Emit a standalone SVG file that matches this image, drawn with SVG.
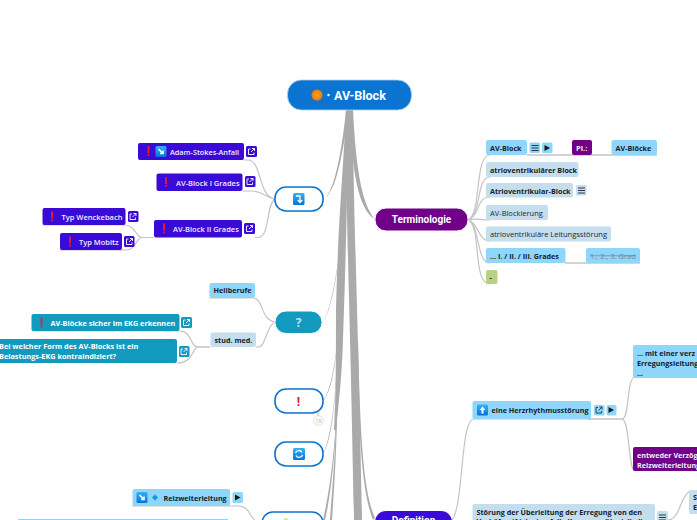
<svg xmlns="http://www.w3.org/2000/svg" width="697" height="520" viewBox="0 0 697 520">
<style>
text{font-family:"Open Sans","Liberation Sans",sans-serif;font-size:7.5px;font-weight:600}
.d{fill:#1b2733}.w{fill:#f0eefc}.t{fill:#fff}
.dk{fill:#16202b;font-weight:700;font-size:7.2px}
.c{fill:none;stroke:#c4c4c4;stroke-width:1.2}
.tr{fill:#aaa}
.lb{fill:#8fd6fb}.pb{fill:#c4deee}.ind{fill:#3a0bd8}.tl{fill:#129bbf}.pu{fill:#6f0087}
.top{fill:#fff;stroke:#0a74d0;stroke-width:1.6}
.ic{fill:none;stroke:#fff;stroke-width:.9}
.ick{fill:none;stroke:#222;stroke-width:.9}
.big{font-family:Roboto,"Liberation Sans",sans-serif;font-weight:700;font-size:10px;fill:#fff}
</style>
<defs>
<linearGradient id="bl" x1="0" y1="0" x2="0" y2="1"><stop offset="0" stop-color="#35b2f3"/><stop offset="1" stop-color="#0674d8"/></linearGradient>
<radialGradient id="or"><stop offset="0" stop-color="#ffa21f"/><stop offset="1" stop-color="#ee7a08"/></radialGradient>
<g id="ex"><rect x="-.9" y="-5" width="1.8" height="7" fill="#ee1c25"/><rect x="-.9" y="3" width="1.8" height="1.8" fill="#ee1c25"/></g>
<g id="lnk"><path class="ic" d="M-1,-2.500H-3V3H2.500V1M-.5,.5L3,-3M.5,-3H3V-.5"/></g>
<g id="lnkd"><path fill="none" stroke="#1f3b4d" stroke-width=".9" d="M-1,-2.500H-3V3H2.500V1M-.5,.5L3,-3M.5,-3H3V-.5"/></g>
<g id="men"><path class="ick" d="M-3.500,-2.500H3.500M-3.500,0H3.500M-3.500,2.500H3.500"/></g>
<path id="ply" d="M-2.500,-3L3,0L-2.500,3Z" fill="#1a1a1a"/>
<g id="arr"><rect x="-5.500" y="-5.500" width="11" height="11" rx="1.500" fill="url(#bl)"/><path d="M-2.500,-2.500L2,2M2,-1V2H-1" fill="none" stroke="#fff" stroke-width="1.600"/></g>
</defs>

<g id="connectors">
<path class="tr" d="M346,110H353C353,200 358,310 362,520H354C350,300 347,250 347,197C346,250 344,310 343,340C342,375 339,400 336,430L334,430C336,400 336,350 336,310C338,220 344,160 346,110Z"/>
<path class="tr" d="M346,110C342,150 335,190 324,199.500C335,190 340,170 349,112Z"/>
<path class="tr" d="M349,110C352,170 358,210 375,219C362,205 356,170 353,110Z"/>
<path class="tr" d="M346,180C342,240 335,300 323,323C336,300 340,250 346,190Z"/>
<path class="tr" d="M340,300C338,350 333,385 323,402C335,385 337,350 341,300Z"/>
<path class="tr" d="M338,340C336,395 332,435 323,454C334,435 335,395 339,340Z"/>
<path class="tr" d="M337,400C335,450 330,490 323,520H325C332,490 335,450 338,400Z"/>
<path class="tr" d="M336,420C335,460 332,490 330,520H332C334,490 336,460 337,420Z"/>
<path class="tr" d="M358,340C360,420 362,490 375,518L373,520C361,490 358,420 357,340Z"/>
<g class="c">
<path d="M244,160H248C262,160 258,197 275,199"/>
<path d="M243,191H252C262,191 266,198 275,199"/>
<path d="M255,237.500H258C270,237.500 266,204 275,199"/>
<path d="M154,237.500H142C136,237.500 135,225 125,225H42"/>
<path d="M154,237.500H142C136,237.500 136,250 126,250H60"/>
<path d="M209,298H253C264,298 260,320 275,322"/>
<path d="M256,347H258C266,347 266,326 275,322"/>
<path d="M210,347H198C190,347 192,331 180,331H32"/>
<path d="M210,347H198C192,347 194,363 177,363"/>
<path d="M132,506H238C250,506 250,518 255,520"/>
<path d="M318,413V416"/>
<path d="M468,220C482,214 474,155 490,155"/>
<path d="M468,220C482,214 476,177 490,177"/>
<path d="M468,220C480,216 476,197 490,197"/>
<path d="M468,220C478,218 478,220 490,220"/>
<path d="M468,220C478,222 478,241 490,241"/>
<path d="M468,220C480,224 476,263 490,263"/>
<path d="M468,220C482,226 472,284 490,284"/>
<path d="M527,155H657" stroke-width="1.600"/>
<path d="M565,263H640" stroke-width="1.600"/>
<path d="M452,520C464,505 460,419 474,419H591"/>
<path d="M588,419H622C630,419 626,378 635,377"/>
<path d="M588,419H622C630,419 628,471 635,471"/>
<path d="M668,520C680,520 680,496 690,491"/>
</g>
</g>

<g id="root"><rect x="287.500" y="80" width="124" height="30" rx="14" fill="#0a74d0" stroke="#a9d2f2" stroke-width=".8"/><circle cx="317" cy="95" r="5.500" fill="url(#or)"/><circle cx="328.500" cy="95" r="1.200" fill="#fff"/><text class="big" x="334" y="99.500" style="font-size:12.500px">AV-Block</text></g>

<g id="n-adam"><rect class="ind" x="138" y="143" width="106" height="17" rx="2"/><use href="#ex" x="148.500" y="151"/><use href="#arr" x="161" y="151.500"/><text class="w" x="170" y="155" style="font-size:7.300px">Adam-Stokes-Anfall</text><rect class="ind" x="246" y="146" width="11" height="11" rx="1.500"/><use href="#lnk" x="251.500" y="151.500"/></g>
<g id="n-av1"><rect class="ind" x="156.500" y="173.500" width="86" height="17.500" rx="2"/><use href="#ex" x="166" y="182"/><text class="w" x="176" y="185.500">AV-Block I Grades</text><rect class="ind" x="245" y="176" width="10.500" height="11" rx="1.500"/><use href="#lnk" x="250" y="181.500"/></g>
<g id="n-av2"><rect class="ind" x="154" y="220" width="88" height="17.500" rx="2"/><use href="#ex" x="164" y="228.500"/><text class="w" x="173" y="232">AV-Block II Grades</text><rect class="ind" x="244" y="223" width="11" height="11" rx="1.500"/><use href="#lnk" x="249.500" y="228.500"/></g>
<g id="n-wenck"><rect class="ind" x="42.500" y="208" width="83" height="17" rx="2"/><use href="#ex" x="52" y="216.500"/><text class="w" x="61.500" y="219.500">Typ Wenckebach</text><rect class="ind" x="128" y="211" width="10.500" height="11" rx="1.500"/><use href="#lnk" x="133" y="216.500"/></g>
<g id="n-mobitz"><rect class="ind" x="60" y="233" width="62" height="17" rx="2"/><use href="#ex" x="70" y="241.500"/><text class="w" x="79" y="244.500">Typ Mobitz</text><rect class="ind" x="124" y="236" width="10.500" height="11" rx="1.500"/><use href="#lnk" x="129.500" y="241.500"/></g>
<g id="n-jump"><rect class="top" x="275" y="187" width="48" height="24" rx="11"/><rect x="293" y="193" width="11.500" height="12" rx="1.500" fill="url(#bl)"/><path d="M296,196H300V202M297.800,200L300,202.500L302.200,200" fill="none" stroke="#fff" stroke-width="1.300"/></g>

<g id="n-heil"><rect class="lb" x="209.500" y="283" width="45.500" height="15" rx="2"/><text class="dk" x="213.500" y="293">Heilberufe</text></g>
<g id="n-q"><rect class="tl" x="275" y="311" width="47" height="22.500" rx="11" stroke="#fff"/><text x="298.500" y="326.500" text-anchor="middle" style="font-size:12px;font-weight:700;fill:#bfe3ee">?</text></g>
<g id="n-stud"><rect class="pb" x="210.500" y="332.500" width="45.500" height="14.500" rx="2"/><text class="dk" x="214.500" y="343">stud. med.</text></g>
<g id="n-sicher"><rect class="tl" x="31.500" y="314" width="148" height="17" rx="2"/><use href="#ex" x="41.500" y="322.500"/><text class="t" x="50.500" y="325.500" style="font-weight:700;font-size:7.300px">AV-Blöcke sicher im EKG erkennen</text><rect class="tl" x="181" y="317" width="11" height="11" rx="1.500"/><use href="#lnk" x="186.500" y="322.500"/></g>
<g id="n-bei"><rect class="tl" x="-5" y="339" width="182" height="24" rx="2"/><text class="t" x="-1" y="349" style="font-weight:700;font-size:7.300px">Bei welcher Form des AV-Blocks ist ein</text><text class="t" x="-1" y="358.500" style="font-weight:700;font-size:7.300px">Belastungs-EKG kontraindiziert?</text><rect class="tl" x="179" y="346" width="10.500" height="11" rx="1.500"/><use href="#lnk" x="184" y="351.500"/></g>

<g id="n-ex"><rect class="top" x="275" y="389" width="48" height="24" rx="11"/><text x="298.500" y="405.500" text-anchor="middle" style="font-size:12px;font-weight:700;fill:#ee1c25">!</text></g>
<g id="n-more"><circle cx="318.500" cy="420.500" r="4.800" fill="#fff" stroke="#d5d5d5" stroke-width=".8"/><text x="318.500" y="423" text-anchor="middle" style="font-size:5.500px;fill:#aaa;font-weight:400">18</text></g>
<g id="n-refresh"><rect class="top" x="275" y="442" width="48" height="24" rx="11"/><rect x="293" y="448" width="12" height="12" rx="1.500" fill="url(#bl)"/><path d="M295.500,453A3.500,3.500 0 0 1 302,452.500M302.500,455A3.500,3.500 0 0 1 296,455.500" fill="none" stroke="#fff" stroke-width="1.300"/></g>
<g id="n-reiz"><rect class="lb" x="132.500" y="489" width="97.500" height="17" rx="2"/><use href="#arr" x="142" y="497.500"/><path d="M155,494.500L158,497.500L155,500.500L152,497.500Z" fill="#1496f0"/><text class="dk" x="163.500" y="501">Reizweiterleitung</text><rect class="lb" x="232.500" y="492" width="10.500" height="11" rx="1.500"/><use href="#ply" x="237.500" y="497.500"/></g>
<g id="n-bulb"><rect class="top" x="262" y="512" width="61" height="24" rx="11"/><circle cx="286" cy="521" r="3" fill="#f8e27c"/></g>
<g id="n-below"><rect class="lb" x="18" y="519" width="210" height="12"/></g>

<g id="n-term"><rect class="pu" x="375" y="208" width="93" height="23" rx="11" stroke="#fff"/><text class="big" x="421.500" y="223" text-anchor="middle">Terminologie</text></g>
<g id="n-avb"><rect class="lb" x="486" y="140" width="41" height="15" rx="2"/><text class="dk" x="490" y="150.500">AV-Block</text><rect class="lb" x="529.500" y="142.500" width="10.500" height="10.500" rx="1.500"/><use href="#men" x="535" y="148"/><rect class="lb" x="542" y="142.500" width="10.500" height="10.500" rx="1.500"/><use href="#ply" x="547" y="148"/></g>
<g id="n-pl"><rect class="pu" x="572" y="140" width="20" height="15" rx="2"/><text class="w" x="576" y="150.500" style="font-weight:700">Pl.:</text></g>
<g id="n-avbl"><rect class="lb" x="611.500" y="140" width="45.500" height="15" rx="2"/><text class="dk" x="615.500" y="150.500">AV-Blöcke</text></g>
<g id="n-atr1"><rect class="pb" x="486" y="162" width="92.500" height="15" rx="2"/><text class="dk" x="490" y="172.500">atrioventrikulärer Block</text></g>
<g id="n-atr2"><rect class="pb" x="486" y="183" width="87" height="14.500" rx="2"/><text class="dk" x="490" y="193.500">Atrioventrikular-Block</text><rect class="pb" x="576" y="185" width="10.500" height="10.500" rx="1.500"/><use href="#men" x="581.500" y="190.500"/></g>
<g id="n-blk"><rect class="pb" x="486" y="205" width="62" height="15" rx="2"/><text class="d" x="490" y="215.500" style="font-weight:400">AV-Blockierung</text></g>
<g id="n-ltg"><rect class="pb" x="486" y="226.500" width="125" height="15" rx="2"/><text class="d" x="490" y="237" style="font-weight:400">atrioventrikuläre Leitungsstörung</text></g>
<g id="n-grad"><rect class="lb" x="486" y="248" width="79.500" height="15" rx="2"/><text class="dk" x="490" y="258.500">... I. / II. / III. Grades</text></g>
<g id="n-grad2"><rect class="lb" x="586" y="248" width="54" height="15" rx="2"/><text x="590" y="258.500" text-decoration="line-through" style="fill:#74858f;font-weight:400">1., 2., 3. Grad</text></g>
<g id="n-green"><rect x="486" y="270" width="11.500" height="14" rx="2" fill="#b8d183"/><text class="dk" x="489.500" y="280">-</text></g>

<g id="n-herz"><rect class="lb" x="472.500" y="401" width="118.500" height="18" rx="2"/><rect x="477" y="404.500" width="11" height="11" rx="1.500" fill="url(#bl)"/><path d="M482.500,406.500L485.500,410H483.500V413.500H481.500V410H479.500Z" fill="#fff"/><text class="dk" x="491.500" y="413">eine Herzrhythmusstörung</text><rect class="lb" x="594" y="405" width="10.500" height="10.500" rx="1.500"/><use href="#lnkd" x="599" y="410"/><rect class="lb" x="606.500" y="405" width="10" height="10.500" rx="1.500"/><use href="#ply" x="611" y="410"/></g>
<g id="n-mit"><rect class="lb" x="633" y="345" width="80" height="33" rx="2"/><text class="dk" x="637" y="355.500">... mit einer verz</text><text class="dk" x="637" y="365.500">Erregungsleitung</text><text class="dk" x="637" y="375.500">...</text></g>
<g id="n-entw"><rect class="pu" x="633" y="447" width="80" height="24" rx="2"/><text class="w" x="637" y="457.500" style="font-weight:700;font-size:7.200px">entweder Verzög</text><text class="w" x="637" y="467.500" style="font-weight:700;font-size:7.200px">Reizweiterleitung</text></g>
<g id="n-stoer"><rect class="pb" x="472.500" y="504" width="182.500" height="26" rx="2"/><text class="dk" x="476.500" y="514.500">Störung der Überleitung der Erregung von den</text><text class="dk" x="476.500" y="524">Vorhöfen (Atrien) auf die Kammern (Ventrikel)</text><rect class="pb" x="657" y="511" width="11" height="12" rx="1.500"/><use href="#men" x="662.500" y="517.500"/></g>
<g id="n-s"><rect class="pb" x="689" y="490" width="20" height="24" rx="2"/><text class="dk" x="693" y="500">S</text><text class="dk" x="693" y="510">E</text></g>
<g id="n-def"><rect class="ind" x="375" y="511" width="77" height="24" rx="11"/><text class="big" x="413.500" y="524" text-anchor="middle">Definition</text></g>
</svg>
